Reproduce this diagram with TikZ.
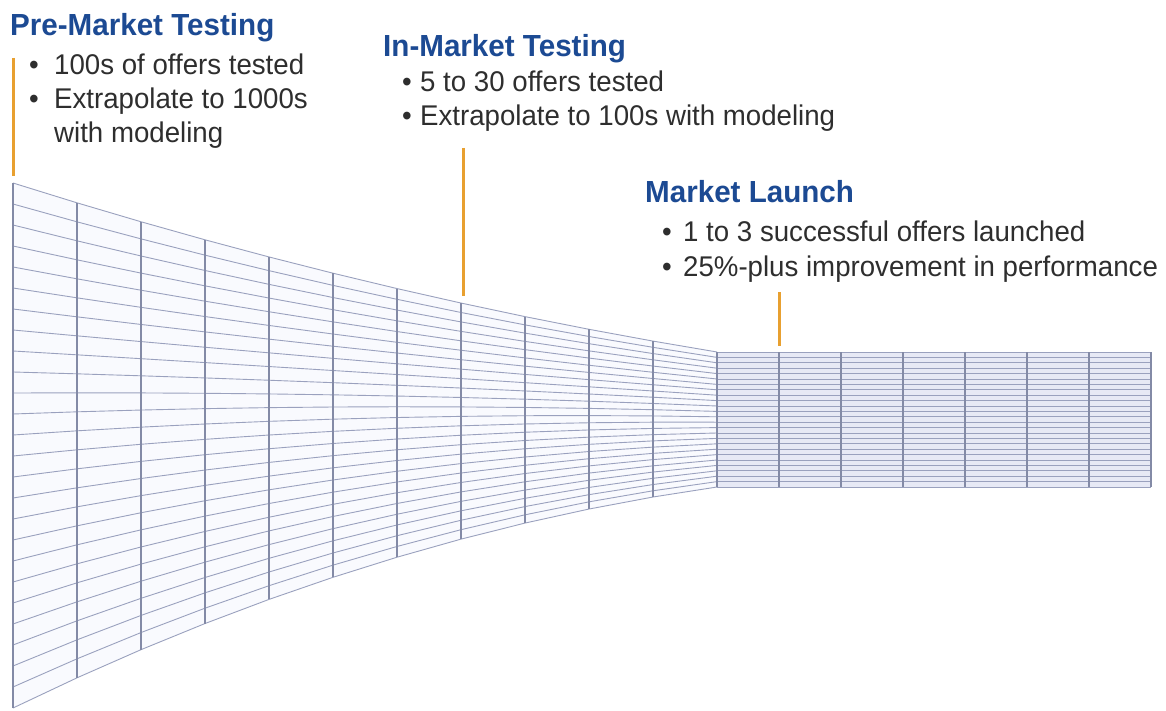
\documentclass[tikz,border=0pt]{standalone}
\usepackage{fontspec}
\setmainfont[FakeStretch=0.97]{Liberation Sans}
\begin{document}
\begin{tikzpicture}[x=1pt,y=-1pt,
  title/.style={anchor=base west,inner sep=0pt,font=\fontsize{30.5}{30.5}\selectfont\bfseries,text=titleblue},
  bullet/.style={anchor=base west,inner sep=0pt,font=\fontsize{28.5}{28.5}\selectfont,text=bodygray},
  leader/.style={draw=leaderorange,line width=3pt},
  hline/.style={draw=gridh,line width=0.9pt},
  vline/.style={draw=gridv,line width=1.1pt}]
\definecolor{titleblue}{HTML}{1C4A93}
\definecolor{bodygray}{HTML}{2E2E2E}
\definecolor{leaderorange}{HTML}{E8A030}
\definecolor{gridh}{HTML}{9AA1BE}
\definecolor{gridv}{HTML}{838AA6}
\definecolor{funnelfill}{HTML}{F9FAFE}
\definecolor{blockfill}{HTML}{E7E9F5}
\useasboundingbox (0,0) rectangle (1166,711);
\fill[white] (0,0) rectangle (1166,711);

% funnel edges: top(t)=183+223t-54t^2, bottom(t)=708-343t+122t^2, x=13+704t
\fill[funnelfill] plot[variable=\t,samples at={0,...,11}] ({13+64*\t},{183+223*(\t/11)-54*(\t/11)^2})
  -- plot[variable=\t,samples at={11,...,0}] ({13+64*\t},{708-343*(\t/11)+122*(\t/11)^2}) -- cycle;
\foreach \i in {0,...,25}{
  \draw[hline] plot[variable=\t,samples at={0,...,11}]
    ({13+64*\t},{(183+223*(\t/11)-54*(\t/11)^2)+\i/25*((708-343*(\t/11)+122*(\t/11)^2)-(183+223*(\t/11)-54*(\t/11)^2))});
}
\foreach \j in {0,...,11}{
  \draw[vline] ({13+64*\j},{183+223*(\j/11)-54*(\j/11)^2}) -- ({13+64*\j},{708-343*(\j/11)+122*(\j/11)^2});
}

% launch block
\fill[blockfill] (717,352) rectangle (1151,487);
\foreach \i in {0,...,25}{
  \draw[hline] (717,{352+\i*5.4}) -- (1151,{352+\i*5.4});
}
\foreach \k in {0,...,7}{
  \draw[vline] ({717+62*\k},352) -- ({717+62*\k},487);
}

% leaders
\coordinate (l1a) at (13,58);   \coordinate (l1b) at (13,176);
\coordinate (l2a) at (463,148); \coordinate (l2b) at (463,296);
\coordinate (l3a) at (779,292); \coordinate (l3b) at (779,346);
\draw[leader] (l1a) -- (l1b);
\draw[leader] (l2a) -- (l2b);
\draw[leader] (l3a) -- (l3b);

% stage texts
\node[title]  (pre)   at (10,36)  {Pre-Market Testing};
\node[bullet] (pre1)  at (29,75)  {\makebox[25pt][l]{•}100s of offers tested};
\node[bullet] (pre2)  at (29,109) {\makebox[25pt][l]{•}Extrapolate to 1000s};
\node[bullet] (pre3)  at (54,143) {with modeling};

\node[title]  (inm)   at (383,57) {In-Market Testing};
\node[bullet] (inm1)  at (402,92) {\makebox[18pt][l]{•}5 to 30 offers tested};
\node[bullet] (inm2)  at (402,126){\makebox[18pt][l]{•}Extrapolate to 100s with modeling};

\node[title]  (lau)   at (645,203){Market Launch};
\node[bullet] (lau1)  at (662,241){\makebox[21pt][l]{•}1 to 3 successful offers launched};
\node[bullet] (lau2)  at (662,276){\makebox[21pt][l]{•}25\%-plus improvement in performance};
\end{tikzpicture}
\end{document}
